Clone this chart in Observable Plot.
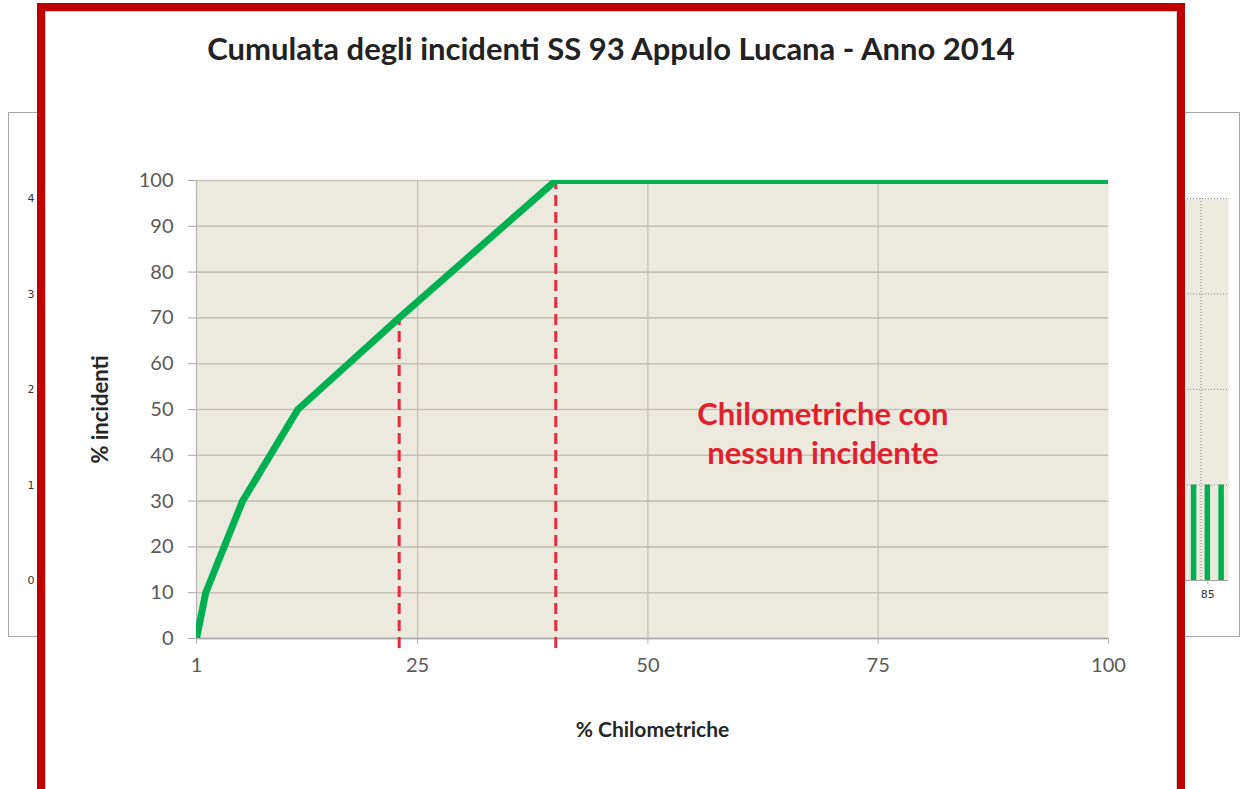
<!DOCTYPE html>
<html>
<head>
<meta charset="utf-8">
<script src="https://cdn.jsdelivr.net/npm/d3@7"></script>
<script src="https://cdn.jsdelivr.net/npm/@observablehq/plot@0.6"></script>
<style>
  html, body { margin: 0; padding: 0; background: #ffffff; }
  body { width: 1246px; height: 789px; overflow: hidden; position: relative; font-family: Lato, "Open Sans", sans-serif; }
  #bg { position: absolute; left: 8px; top: 112px; width: 1232px; height: 525px; border: 1px solid #a6a6a6; box-sizing: border-box; background: #fff; }
  #bg svg { position: absolute; left: 0; top: 0; }
  #frame { position: absolute; left: 37px; top: 3px; width: 1148px; height: 795px; border: 8px solid #c00000; box-sizing: border-box; background: #fff; box-shadow: inset 0 0 0 1px #d4d4d4; }
  #title { position: absolute; left: 0; top: 18px; width: 1132px; text-align: center; font: bold 31px Lato, sans-serif; color: #222; line-height: 38px; }
  #chart { position: absolute; left: 0; top: 0; }
  #chart svg { overflow: visible; }
</style>
</head>
<body>
<div id="bg"></div>
<div id="frame">
  <div id="chart"></div>
  <div id="title">Cumulata degli incidenti SS 93 Appulo Lucana - Anno 2014</div>
</div>
<script>
// ---- Main chart data ----
const km = [1, 2, 3, 4, 5, 6, 12, 23, 40, 100];            // % chilometriche
const cumIncidenti = [0, 10, 15, 20, 25, 30, 50, 70, 100, 100]; // % incidenti (cumulata)
const yTicks = [0, 10, 20, 30, 40, 50, 60, 70, 80, 90, 100];
const xTicks = [1, 25, 50, 75, 100];
const xGrid = [25, 50, 75];
const soglieKm = [23, 40];
const soglieCum = [70, 100];
const annotationText = ["Chilometriche con\nnessun incidente"];
const annotationKm = [69];
const annotationCum = [45];

// ---- Background (partially hidden) chart data ----
const bgKm = [84, 85, 86];
const bgIncidenti = [1, 1, 1];
const bgYTicks = [0, 1, 2, 3, 4];
const bgXTicks = [85];

const data = km.map((k, i) => ({km: k, cum: cumIncidenti[i]}));
const soglie = soglieKm.map((k, i) => ({km: k, cum: soglieCum[i]}));
const notes = annotationText.map((t, i) => ({t, km: annotationKm[i], cum: annotationCum[i]}));
const bgData = bgKm.map((k, i) => ({km: k, n: bgIncidenti[i]}));

const bg = Plot.plot({
  width: 1230, height: 523,
  marginLeft: 35, marginRight: 11, marginTop: 85, marginBottom: 56,
  style: {background: "transparent", fontFamily: "DejaVu Sans, sans-serif"},
  x: {domain: [0.5, 86.5]},
  y: {domain: [0, 4]},
  marks: [
    Plot.frame({fill: "#ece9df", stroke: null}),
    Plot.gridY([1, 2, 3, 4], {stroke: "#8c8c8c", strokeOpacity: 1, strokeDasharray: "1,2"}),
    Plot.gridX([84.5], {stroke: "#8c8c8c", strokeOpacity: 1, strokeDasharray: "1,2"}),
    Plot.rectY(bgData, {x1: d => d.km - 0.2, x2: d => d.km + 0.2, y: "n", fill: "#00b050"}),
    Plot.ruleY([0], {stroke: "#a6a6a6"}),
    Plot.axisY({ticks: bgYTicks, tickFormat: d3.format("d"), tickSize: 0, tickPadding: 10, fontSize: 11, fill: "#333", label: null}),
    Plot.axisX({ticks: bgXTicks, tickFormat: d3.format("d"), tickSize: 4, tickPadding: 6, fontSize: 11, fill: "#333", stroke: "#a6a6a6", label: null})
  ]
});
document.getElementById("bg").appendChild(bg);

const chart = Plot.plot({
  width: 1132, height: 778,
  marginLeft: 151, marginRight: 69, marginTop: 169, marginBottom: 151,
  style: {background: "transparent", fontFamily: "Lato, sans-serif", overflow: "visible"},
  x: {domain: [1, 100]},
  y: {domain: [0, 100]},
  marks: [
    Plot.frame({fill: "#ece9df", stroke: null}),
    Plot.gridY(yTicks, {stroke: "#c6c2b6", strokeOpacity: 1, strokeWidth: 1.6}),
    Plot.gridX(xGrid, {stroke: "#c2bfb5", strokeOpacity: 1, strokeWidth: 1.2}),
    Plot.ruleX([1], {stroke: "#b4b4b4", strokeWidth: 1.2}),
    Plot.ruleY([0], {stroke: "#a6a6a6", strokeWidth: 1.6}),
    Plot.axisY({ticks: yTicks, tickSize: 8, tickPadding: 15, fontSize: 20, fill: "#595959", stroke: "#a6a6a6", label: null}),
    Plot.axisX({ticks: xTicks, tickSize: 6, tickPadding: 13, fontSize: 20, fill: "#595959", stroke: "#b4b4b4", label: null}),
    Plot.ruleX(soglie, {x: "km", y1: -2.2, y2: "cum", stroke: "#e52b3c", strokeWidth: 3, strokeDasharray: "11,6"}),
    Plot.line(data, {x: "km", y: "cum", stroke: "#00b050", strokeWidth: 7, clip: true, strokeLinejoin: "round"}),
    Plot.text(notes, {x: "km", y: "cum", text: "t", fill: "#e21f2d", fontSize: 31, fontWeight: "bold", lineHeight: 1.26}),
    Plot.text(["% incidenti"], {frameAnchor: "left", dx: -96, rotate: -90, textAnchor: "middle", lineAnchor: "middle", fontSize: 22, fontWeight: "bold", fill: "#262626"}),
    Plot.text(["% Chilometriche"], {frameAnchor: "bottom", dy: 92, textAnchor: "middle", lineAnchor: "middle", fontSize: 21, fontWeight: "bold", fill: "#262626"})
  ]
});
document.getElementById("chart").appendChild(chart);
</script>
</body>
</html>
